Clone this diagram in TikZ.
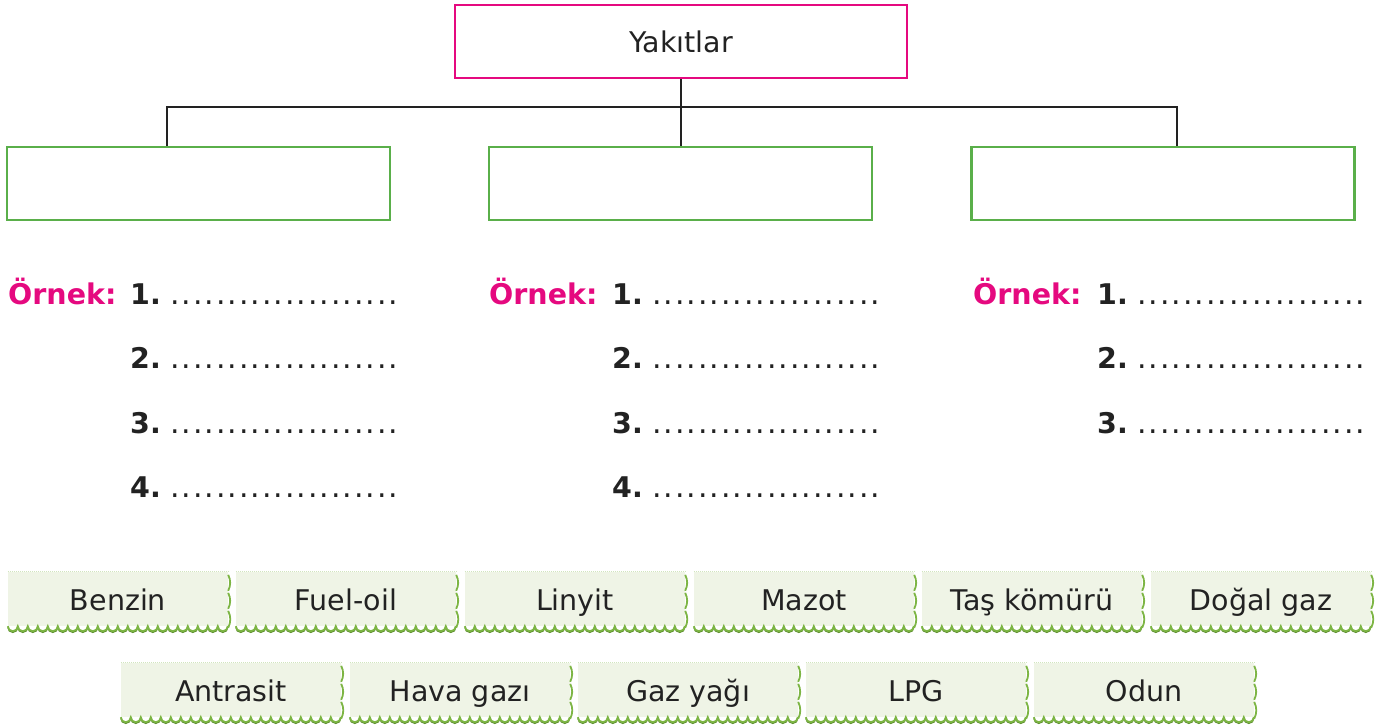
\documentclass[tikz,border=0pt]{standalone}
\usepackage{fontspec}
\setmainfont{DejaVu Sans}
\definecolor{pinkc}{HTML}{E5097F}
\definecolor{boxgreen}{HTML}{5AAF4A}
\definecolor{chipfill}{HTML}{EFF4E6}
\definecolor{scalc}{HTML}{7DB544}
\definecolor{scaldark}{HTML}{5E8F30}
\definecolor{inkc}{HTML}{222222}
\tikzset{
  every node/.style={inner sep=0pt, text=inkc},
  topbox/.style={draw=pinkc, line width=2.8pt, minimum width=452pt, minimum height=73pt, font=\fontsize{28.5}{30}\selectfont},
  catbox/.style={draw=boxgreen, line width=2.8pt, minimum width=383pt, minimum height=73pt},
  link/.style={draw=inkc, line width=2.8pt},
  ornek/.style={anchor=base west, text=pinkc, font=\bfseries\fontsize{28.5}{30}\selectfont},
  num/.style={anchor=base west, font=\bfseries\fontsize{28.5}{30}\selectfont},
  blank/.style={anchor=base west, font=\fontsize{30}{30}\selectfont},
  chipbox/.style={fill=chipfill, minimum width=220pt, minimum height=54pt, text height=23pt, text depth=0pt, font=\fontsize{28.5}{30}\selectfont},
  scal/.style={draw=scalc, line width=1.8pt},
  scalsh/.style={draw=scaldark, line width=1.2pt},
  chiptop/.style={draw=scalc!35, line width=1pt, densely dotted}
}
\newcommand\blankdots{\hbox to 230pt{\xleaders\hbox to 11.5pt{\hss.\hss}\hfill}}
\newcommand\chip[4]{%
  \node[chipbox] (#1) at (#2+110,#3+27) {#4};
  \draw[chiptop] (#1.north west) -- (#1.north east);
  \draw[scalsh] ([yshift=-1.2pt]#1.south west) foreach \i in {1,...,22} {arc[start angle=180, end angle=0, x radius=5, y radius=5]};
  \draw[scal] (#1.south west) foreach \i in {1,...,22} {arc[start angle=180, end angle=0, x radius=5, y radius=5]};
  \draw[scal] ([yshift=-3pt]#1.north east) to[bend left=25] ([yshift=-19pt]#1.north east);
  \draw[scal] ([yshift=-21pt]#1.north east) to[bend left=25] ([yshift=-37pt]#1.north east);
  \draw[scal] ([yshift=-39pt]#1.north east) to[bend left=25] ([yshift=-56pt]#1.north east);
}
\begin{document}
\begin{tikzpicture}[x=1pt, y=-1pt]
\useasboundingbox (0,0) rectangle (1385,727);
% tree
\node[topbox] (top) at (681,41.5) {Yakıtlar};
\node[catbox] (lb) at (198.5,183.5) {};
\node[catbox] (mb) at (680.5,183.5) {};
\node[catbox] (rb) at (1163,183.5) {};
\coordinate (j1) at (167,107);
\coordinate (j3) at (1177,107);
\draw[link] (top.south) -- (top.south |- mb.north);
\draw[link] (lb.north -| j1) -- (j1) -- (j3) -- (rb.north -| j3);
% examples
\foreach \c/\xo/\xn/\xd/\n in {a/8/130/169/4, b/489/612/651/4, c/973/1097/1136/3}{
  \node[ornek] (orn\c) at (\xo,305) {Örnek:};
  \foreach \k in {1,...,\n}{
    \node[num] (n\c\k) at (\xn,305+64*\k-64) {\k.};
    \node[blank] (d\c\k) at (\xd,305+64*\k-64) {\blankdots};
  }
}
% chips
\chip{c1}{8}{572}{Benzin}
\chip{c2}{236}{572}{Fuel-oil}
\chip{c3}{465}{572}{Linyit}
\chip{c4}{694}{572}{Mazot}
\chip{c5}{922}{572}{Taş kömürü}
\chip{c6}{1151}{572}{Doğal gaz}
\chip{c7}{121}{663}{Antrasit}
\chip{c8}{350}{663}{Hava gazı}
\chip{c9}{578}{663}{Gaz yağı}
\chip{c10}{806}{663}{LPG}
\chip{c11}{1034}{663}{Odun}
\end{tikzpicture}
\end{document}
